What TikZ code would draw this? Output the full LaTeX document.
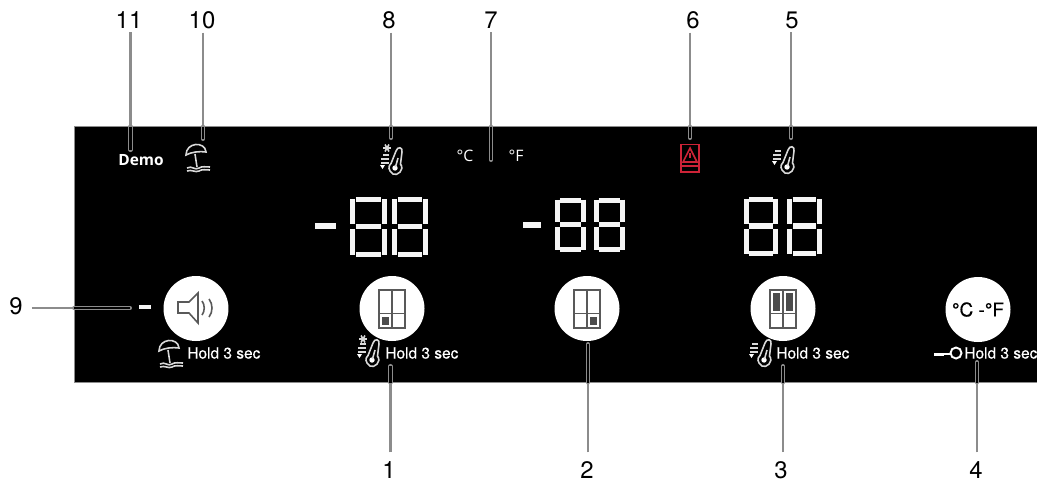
\documentclass[tikz,border=0pt]{standalone}
\usepackage{fontspec}
\setmainfont{TeX Gyre Heros}
\newfontfamily\panelfont{Open Sans}
\newfontfamily\holdfont{TeX Gyre Heros}[FakeBold=0.3]
\definecolor{alertred}{RGB}{205,35,55}

\tikzset{
    numlabel/.style={inner sep=2pt, font=\fontsize{13.6}{14}\selectfont},
    holdtext/.style={anchor=west, inner sep=0pt, text=white, font=\holdfont\fontsize{8.8}{10}\selectfont},
    paneltext/.style={inner sep=0pt, text=white, font=\panelfont\fontsize{9}{10}\selectfont},
    leader/.style={draw=black!45, line width=1.5pt},
    leaderin/.style={draw=black, line width=1.5pt, preaction={draw=black!45, line width=2.3pt, line cap=round}},
    lowleader/.style={leader, shorten <=3pt},
    seg/.style={draw=black!4, line width=3pt},
    knob/.style={circle, fill=white, minimum size=1.3cm, inner sep=0pt},
    iconline/.style={draw=white!85!black, line width=0.9pt},
    knobline/.style={draw=black!65, line width=0.9pt},
    alertline/.style={draw=alertred, line width=0.9pt}
}

% one digit of the display: left, top, width, height
\newcommand{\segdigit}[4]{
    \begin{scope}[shift={(#1,#2)}, xscale=#3, yscale=#4]
        \draw[seg] (0.16,0.04) -- (0.84,0.04);
        \draw[seg] (0.16,0.49) -- (0.84,0.49);
        \draw[seg] (0.16,0.96) -- (0.84,0.96);
        \draw[seg] (0.07,0.03) -- (0.07,0.45);
        \draw[seg] (0.93,0.03) -- (0.93,0.45);
        \draw[seg] (0.07,0.54) -- (0.07,0.97);
        \draw[seg] (0.93,0.54) -- (0.93,0.97);
    \end{scope}
}
% thermometer with bars, placed by its bulb; third value moves the bars down
\newcommand{\thermicon}[3]{
    \begin{scope}[shift={(#1,#2)}]
        \draw[iconline] (-4,-3.5) -- (1,-16) .. controls (2.5,-21) and (8,-20) .. (7,-15)
            -- (5.5,-3) .. controls (10,3) and (2,9.5) .. (-2,7) .. controls (-7,3.5) and (-7,-1) .. (-4,-3.5);
        \fill[white] (0,1) circle (2.7);
        \draw[iconline] (0.5,0) -- (3,-9);
        \draw[iconline] (-12,-15+#3) -- (-6,-15+#3);
        \draw[iconline] (-14,-11+#3) -- (-6,-11+#3);
        \draw[iconline] (-14,-7+#3) -- (-6,-7+#3);
        \fill[white] (-15,-5+#3) -- (-10,-5+#3) -- (-12.5,-1+#3) -- cycle;
    \end{scope}
}
\newcommand{\snowflake}[2]{
    \begin{scope}[shift={(#1,#2)}]
        \draw[iconline] (-4,0) -- (4,0);
        \draw[iconline] (-2,-3.5) -- (2,3.5);
        \draw[iconline] (-2,3.5) -- (2,-3.5);
    \end{scope}
}
% umbrella over waves, placed by the foot of its dome
\newcommand{\beachicon}[2]{
    \begin{scope}[shift={(#1,#2)}]
        \draw[iconline] (-10,-2) .. controls (-10,-15) and (9,-16) .. (10,-5) .. controls (4,-6) and (-5,-5) .. (-10,-2) -- cycle;
        \draw[iconline] (-1,-3) -- (1,10);
        \draw[iconline] (-9,11) .. controls (-4,8) and (-1,14) .. (3,11) .. controls (6,9) and (10,10) .. (14,10);
        \draw[iconline] (-9,14) .. controls (-4,12) and (-1,16) .. (3,14) .. controls (6,12) and (10,13) .. (14,13);
    \end{scope}
}
% door outline of the fridge, placed by its centre
\newcommand{\fridgeicon}[2]{
    \begin{scope}[shift={(#1,#2)}]
        \draw[knobline] (-13,-19) rectangle (13,19);
        \draw[knobline] (-13,4.5) -- (13,4.5);
        \draw[knobline] (0,-19) -- (0,19);
    \end{scope}
}

\begin{document}
\begin{tikzpicture}[x=0.02cm, y=-0.02cm]
    \useasboundingbox (0,0) rectangle (1037,481);

    % Panel
    \fill[black] (74,126.5) rectangle (1037,382.5);
    \draw[black!45, line width=0.5pt] (74,382.5) -- (74,126.5) -- (1037,126.5);
    \draw[black!45, line width=0.5pt] (74,382.5) -- (1037,382.5);

    % Number labels
    \node[numlabel] (n11) at (129,20) {11};
    \node[numlabel] (n10) at (202,20) {10};
    \node[numlabel] (n8) at (389,20) {8};
    \node[numlabel] (n7) at (491,20) {7};
    \node[numlabel] (n6) at (693,20) {6};
    \node[numlabel] (n5) at (792,20) {5};
    \node[numlabel] (n9) at (16,306) {9};
    \node[numlabel] (n1) at (389,470) {1};
    \node[numlabel] (n2) at (587,470) {2};
    \node[numlabel] (n3) at (781,470) {3};
    \node[numlabel] (n4) at (976,470) {4};

    % Leader ends, on the panel edge and inside
    \coordinate (e11) at (130.5,126.5);
    \coordinate (t11) at (130.5,150);
    \coordinate (e10) at (203,126.5);
    \coordinate (t10) at (203,139);
    \coordinate (e8) at (391,126.5);
    \coordinate (t8) at (391,138);
    \coordinate (e7) at (491,126.5);
    \coordinate (t7) at (491,160);
    \coordinate (e6) at (690,126.5);
    \coordinate (t6) at (690,138);
    \coordinate (e5) at (791,126.5);
    \coordinate (t5) at (791,138);
    \coordinate (e9) at (74,308);
    \coordinate (t9) at (130,308);
    \coordinate (e1) at (390.5,382.5);
    \coordinate (t1) at (390.5,366);
    \coordinate (e2) at (588,382.5);
    \coordinate (t2) at (588,344);
    \coordinate (e3) at (783,382.5);
    \coordinate (t3) at (783,366);
    \coordinate (e4) at (977,382.5);
    \coordinate (t4) at (977,362);

    % Leaders
    \draw[leader] (n11.south -| e11) -- (e11);
    \draw[leaderin] (e11) -- (t11);
    \draw[leader] (n10.south -| e10) -- (e10);
    \draw[leaderin] (e10) -- (t10);
    \draw[leader] (n8.south -| e8) -- (e8);
    \draw[leaderin] (e8) -- (t8);
    \draw[leader] (n7.south -| e7) -- (e7);
    \draw[leaderin] (e7) -- (t7);
    \draw[leader] (n6.south -| e6) -- (e6);
    \draw[leaderin] (e6) -- (t6);
    \draw[leader] (n5.south -| e5) -- (e5);
    \draw[leaderin] (e5) -- (t5);
    \draw[lowleader] (n9.east |- e9) -- (e9);
    \draw[leaderin] (e9) -- (t9);
    \draw[lowleader] (n1.north -| e1) -- (e1);
    \draw[leaderin] (e1) -- (t1);
    \draw[lowleader] (n2.north -| e2) -- (e2);
    \draw[leaderin] (e2) -- (t2);
    \draw[lowleader] (n3.north -| e3) -- (e3);
    \draw[leaderin] (e3) -- (t3);
    \draw[lowleader] (n4.north -| e4) -- (e4);
    \draw[leaderin] (e4) -- (t4);

    % Top row
    \node[paneltext, font=\panelfont\bfseries\fontsize{8.8}{10}\selectfont] (demo) at (141,160.5) {Demo};
    \beachicon{196}{157}
    \thermicon{395}{167}{3}
    \snowflake{387}{148}
    \node[paneltext] (cel) at (465,156) {°C};
    \node[paneltext] (fah) at (516,156) {°F};
    \draw[alertline] (681,144.5) rectangle (699,172);
    \draw[alertline] (690,148) -- (683,162) -- (697,162) -- cycle;
    \draw[alertline] (681,166) -- (699,166);
    \draw[alertline] (690,153) -- (690,158);
    \thermicon{787}{166}{0}

    % Displays
    \draw[seg] (315,226) -- (336,226);
    \segdigit{350}{197}{37}{60}
    \segdigit{392}{197}{36}{60}
    \draw[seg] (523,225) -- (541,225);
    \segdigit{555}{198}{31}{54}
    \segdigit{594}{198}{31}{54}
    \segdigit{744}{197}{34}{59}
    \segdigit{787}{197}{35}{59}

    % Buttons
    \draw[seg, line width=2.2pt] (139,307) -- (151,307);
    \node[knob] (sound) at (196,308.5) {};
    \node[knob] (left) at (392,308.5) {};
    \node[knob] (mid) at (587,308.5) {};
    \node[knob] (right) at (783,308.5) {};
    \node[knob, font=\holdfont\fontsize{10.8}{12}\selectfont] (unit) at (978,309.5) {°C -°F};

    % Speaker
    \draw[knobline] (178,302) -- (189,302) -- (198,293) -- (198,323) -- (189,313) -- (178,313) -- cycle;
    \draw[knobline] (202,301) .. controls (205,305) and (205,311) .. (202,315);
    \draw[knobline] (209,299) .. controls (213,304) and (213,312) .. (209,317);

    % Fridge doors
    \fridgeicon{392}{309}
    \fill[black!70] (382,317) rectangle (389,325);
    \fridgeicon{587}{309}
    \fill[black!70] (590,317) rectangle (597,325);
    \fridgeicon{783}{309}
    \fill[black!70] (773,293) rectangle (780,311);
    \fill[black!70] (786,293) rectangle (793,311);

    % Hold row
    \beachicon{169}{353}
    \node[holdtext] (hold9) at (187,353) {Hold 3 sec};
    \thermicon{372}{359}{0}
    \snowflake{363}{339}
    \node[holdtext] (hold1) at (385,353) {Hold 3 sec};
    \thermicon{764}{359}{0}
    \node[holdtext] (hold3) at (776,353) {Hold 3 sec};
    \draw[white, line width=1.7pt] (934,354.5) -- (944,354.5);
    \draw[white, line width=1pt] (944,354) -- (951,354);
    \draw[white, line width=1.1pt] (956,353) circle (5.5);
    \node[holdtext] (hold4) at (964,353) {Hold 3 sec};
\end{tikzpicture}
\end{document}
